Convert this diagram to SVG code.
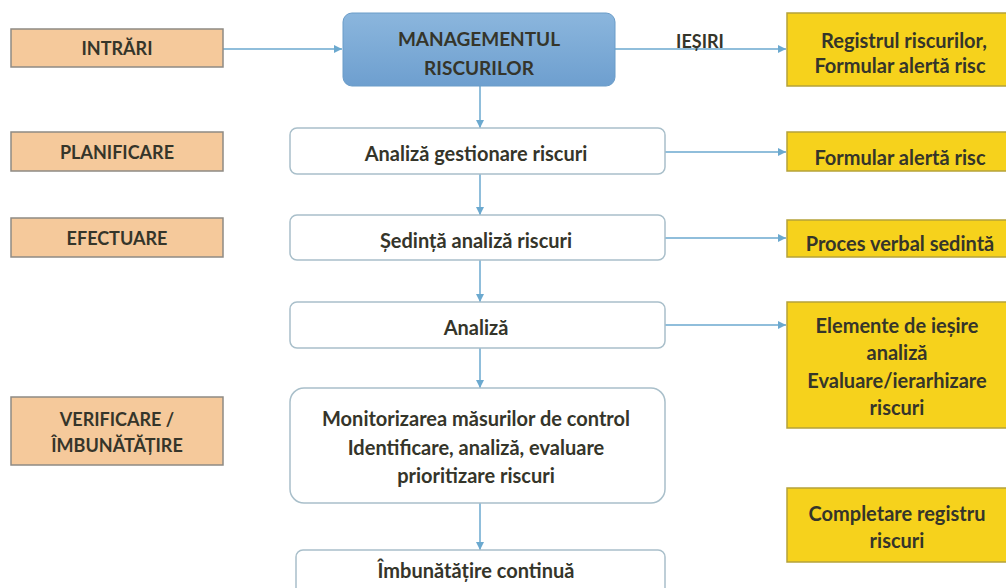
<svg xmlns="http://www.w3.org/2000/svg" width="1006" height="588" viewBox="0 0 1006 588">
<style>
text{font-family:Lato,"Open Sans","Liberation Sans",sans-serif;font-weight:bold;font-size:20px;fill:#35352a;text-anchor:middle;dominant-baseline:central}
.l{font-size:19px}
.s{font-size:18px}
.in{fill:#f5c99b;stroke:#8e8a84;stroke-width:1.5}
.out{fill:#f6d21c;stroke:#b5a23a;stroke-width:1.5}
.step{fill:#fff;stroke:#a9bfca;stroke-width:1.5}
.c{stroke:#6ba9cf;stroke-width:1.5;fill:none;marker-end:url(#ah)}
</style>
<defs>
<marker id="ah" viewBox="0 0 10 10" refX="10" refY="5" markerWidth="8" markerHeight="8" markerUnits="userSpaceOnUse" orient="auto">
<path d="M0,0 L10,5 L0,10 z" fill="#6ba9cf"/>
</marker>
<linearGradient id="bg" x1="0" y1="0" x2="0" y2="1">
<stop offset="0" stop-color="#8bb6dd"/>
<stop offset="1" stop-color="#6e9fcf"/>
</linearGradient>
</defs>
<rect width="1006" height="588" fill="#fff"/>
<g id="connectors">
<path class="c" d="M223,49 H342"/>
<path class="c" d="M615,49 H786"/>
<path class="c" d="M480,86 V128"/>
<path class="c" d="M480,174 V215"/>
<path class="c" d="M480,260 V302"/>
<path class="c" d="M480,348 V388"/>
<path class="c" d="M480,503 V550"/>
<path class="c" d="M665,152 H786"/>
<path class="c" d="M665,238 H786"/>
<path class="c" d="M665,325 H786"/>
<text class="s" x="700" y="41">IEȘIRI</text>
</g>
<g id="intrari"><rect class="in" x="11" y="29" width="212" height="38"/><text class="s" x="117" y="48">INTRĂRI</text></g>
<g id="planificare"><rect class="in" x="11" y="132" width="212" height="39"/><text class="s" x="117" y="151.5">PLANIFICARE</text></g>
<g id="efectuare"><rect class="in" x="11" y="218" width="212" height="39"/><text class="s" x="117" y="237.5">EFECTUARE</text></g>
<g id="verificare"><rect class="in" x="11" y="397" width="212" height="68"/><text class="s" x="117" y="419">VERIFICARE /</text><text class="s" x="117" y="445">ÎMBUNĂTĂȚIRE</text></g>
<g id="management"><rect x="343" y="13" width="272" height="73" rx="9" fill="url(#bg)" stroke="#6a9cc8" stroke-width="1"/><text class="l" x="479" y="38">MANAGEMENTUL</text><text class="l" x="479" y="67">RISCURILOR</text></g>
<g id="analiza-gestionare"><rect class="step" x="290" y="128" width="375" height="46" rx="7"/><text x="476" y="153">Analiză gestionare riscuri</text></g>
<g id="sedinta"><rect class="step" x="290" y="215" width="375" height="45" rx="7"/><text x="476" y="240">Ședință analiză riscuri</text></g>
<g id="analiza"><rect class="step" x="290" y="302" width="375" height="46" rx="7"/><text x="476" y="327">Analiză</text></g>
<g id="monitorizare"><rect class="step" x="290" y="388" width="375" height="115" rx="14"/><text x="476" y="418">Monitorizarea măsurilor de control</text><text x="476" y="447">Identificare, analiză, evaluare</text><text x="476" y="475">prioritizare riscuri</text></g>
<g id="imbunatatire"><rect class="step" x="296" y="550" width="369" height="50" rx="7"/><text x="476" y="570">Îmbunătățire continuă</text></g>
<g id="registrul"><rect class="out" x="787" y="13" width="225" height="73"/><text x="904" y="40">Registrul riscurilor,</text><text x="900" y="65">Formular alertă risc</text></g>
<g id="formular"><rect class="out" x="787" y="132" width="225" height="39"/><text x="900" y="157">Formular alertă risc</text></g>
<g id="proces"><rect class="out" x="787" y="220" width="225" height="37"/><text x="900" y="243">Proces verbal sedintă</text></g>
<g id="elemente"><rect class="out" x="787" y="302" width="225" height="126"/><text x="897" y="325">Elemente de ieșire</text><text x="897" y="352">analiză</text><text x="897" y="380">Evaluare/ierarhizare</text><text x="897" y="407">riscuri</text></g>
<g id="completare"><rect class="out" x="787" y="488" width="225" height="74"/><text x="897" y="513">Completare registru</text><text x="897" y="540">riscuri</text></g>
</svg>
